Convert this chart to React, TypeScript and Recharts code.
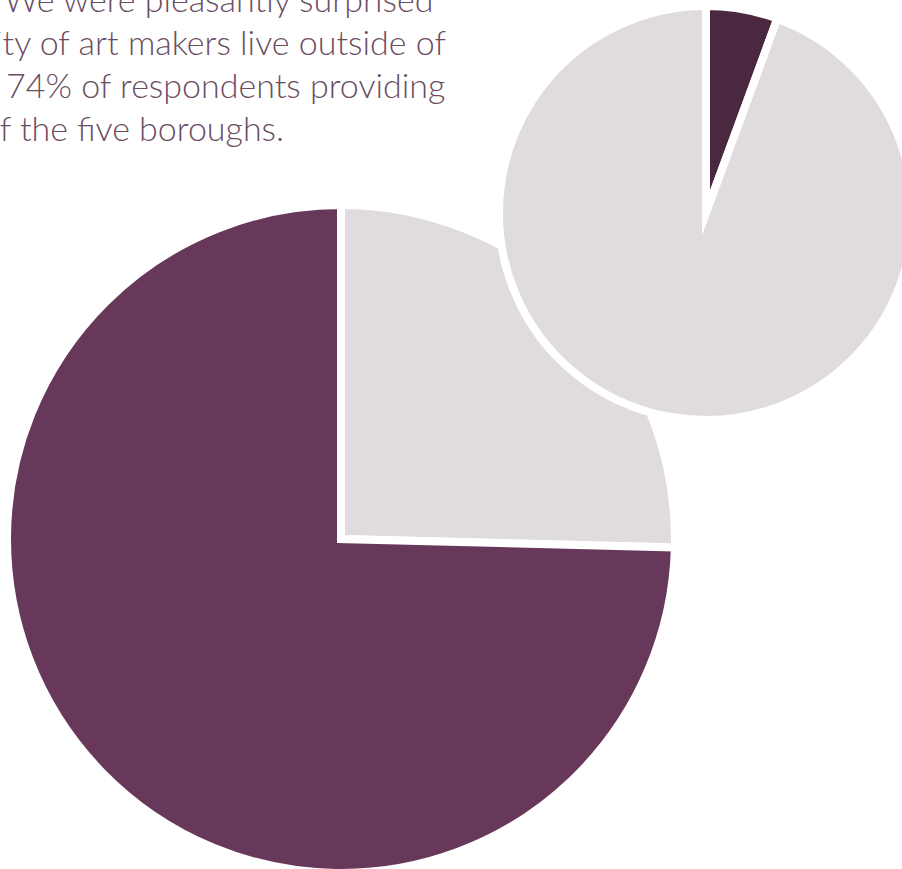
import React from 'react';
import { PieChart, Pie, Cell } from 'recharts';

// big pie: outside vs inside the city
const boroughNames = ['Inside NYC', 'Outside NYC'];
const boroughValues = [25.4, 74.6];
const boroughColors = ['#e0dbdf', '#68385a'];

// small pie
const smallNames = ['Other', 'Rest'];
const smallValues = [5.6, 94.4];
const smallColors = ['#4a2840', '#e0dbdf'];

const introLines = [
  'We were pleasantly surprised',
  'ity of art makers live outside of',
  '74% of respondents providing',
  'of the five boroughs.',
];

const bigData = boroughNames.map((name, i) => ({ name, value: boroughValues[i] }));
const smallData = smallNames.map((name, i) => ({ name, value: smallValues[i] }));

const lineX = [4, -5, 6, -19];
const lineY = [12, 55, 98, 141];

export default function App() {
  return (
    <div style={{ position: 'absolute', left: 0, top: 0, width: 902, height: 869, overflow: 'hidden', background: '#fff' }}>
      <PieChart width={902} height={869} margin={{ top: 0, right: 0, bottom: 0, left: 0 }}>
        {introLines.map((line, i) => (
          <text
            key={i}
            x={lineX[i]}
            y={lineY[i]}
            fill="#6b4d63"
            fontFamily="Lato, 'Open Sans', sans-serif"
            fontWeight={300}
            fontSize={34}
          >
            {line}
          </text>
        ))}
        <Pie
          data={bigData}
          dataKey="value"
          cx={341}
          cy={539}
          outerRadius={334}
          startAngle={90}
          endAngle={-270}
          stroke="#ffffff"
          strokeWidth={8}
          strokeMiterlimit={10}
          isAnimationActive={false}
          legendType="none"
        >
          {bigData.map((d, i) => (
            <Cell key={d.name} fill={boroughColors[i]} />
          ))}
        </Pie>
        <Pie
          data={smallData}
          dataKey="value"
          cx={706}
          cy={213}
          outerRadius={207}
          startAngle={90}
          endAngle={-270}
          stroke="#ffffff"
          strokeWidth={8}
          strokeMiterlimit={10}
          isAnimationActive={false}
          legendType="none"
        >
          {smallData.map((d, i) => (
            <Cell key={d.name} fill={smallColors[i]} />
          ))}
        </Pie>
      </PieChart>
    </div>
  );
}
